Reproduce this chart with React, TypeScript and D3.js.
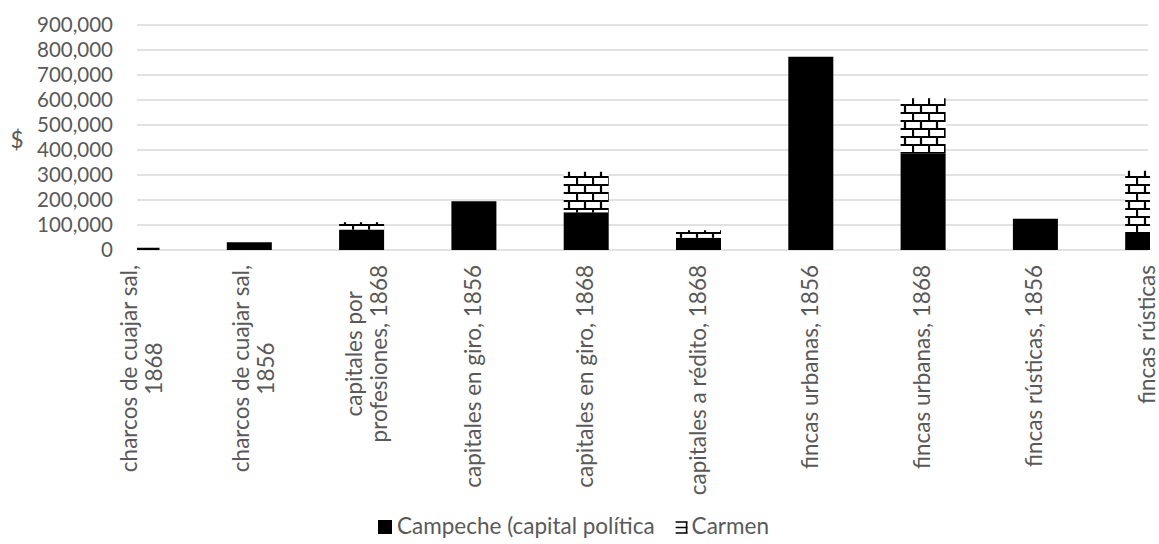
import React, { useEffect, useRef } from "react";
import * as d3 from "d3";

// Category labels (already split into the lines they wrap to)
const categories: string[][] = [
  ["charcos de cuajar sal,", "1868"],
  ["charcos de cuajar sal,", "1856"],
  ["capitales por", "profesiones, 1868"],
  ["capitales en giro, 1856"],
  ["capitales en giro, 1868"],
  ["capitales a rédito, 1868"],
  ["fincas urbanas, 1856"],
  ["fincas urbanas, 1868"],
  ["fincas rústicas, 1856"],
  ["fincas rústicas"],
];

// Stacked series, in pesos
const campeche: number[] = [9000, 31000, 82000, 195000, 151000, 49000, 773000, 387000, 125000, 68000];
const carmen: number[] = [0, 0, 29000, 0, 162000, 30000, 0, 220000, 0, 249000];

const seriesNames: string[] = ["Campeche (capital política", "Carmen"];
const yTicks: number[] = [0, 100000, 200000, 300000, 400000, 500000, 600000, 700000, 800000, 900000];
const yTitle = "$";

const W = 1159;
const H = 544;
const FONT = "Lato, 'Open Sans', sans-serif";
const TEXT = "#595959";
const GRID = "#d9d9d9";
const TICK_SIZE = 20.5;
const LABEL_SIZE = 22.5;

export default function App() {
  const ref = useRef<SVGSVGElement>(null);

  useEffect(() => {
    document.body.style.margin = "0";
    const svg = d3.select(ref.current);
    svg.selectAll("*").remove();

    const plotLeft = 137;
    const plotRight = 1148;
    const x = d3
      .scalePoint<number>()
      .domain(categories.map((_, i) => i))
      .range([137, 1147.7]);
    const y = d3.scaleLinear().domain([0, 900000]).range([250, 25]);
    const barW = 45;

    const defs = svg.append("defs");
    // brick hatch for the Carmen series
    const pat = defs
      .append("pattern")
      .attr("id", "brick")
      .attr("patternUnits", "userSpaceOnUse")
      .attr("width", 16)
      .attr("height", 16);
    pat.append("rect").attr("width", 16).attr("height", 16).attr("fill", "#fff");
    pat
      .append("path")
      .attr("d", "M0,1H16M0,9H16M1,1V9M9,9V17")
      .attr("stroke", "#000")
      .attr("stroke-width", 2.2)
      .attr("fill", "none");

    defs
      .append("clipPath")
      .attr("id", "plotClip")
      .append("rect")
      .attr("x", plotLeft)
      .attr("y", 0)
      .attr("width", 1150 - plotLeft)
      .attr("height", 251);

    // gridlines
    svg
      .append("g")
      .selectAll("line")
      .data(yTicks)
      .join("line")
      .attr("x1", plotLeft)
      .attr("x2", plotRight)
      .attr("y1", (d) => y(d))
      .attr("y2", (d) => y(d))
      .attr("stroke", GRID)
      .attr("stroke-width", 1.6);

    // y tick labels
    const fmt = d3.format(",");
    svg
      .append("g")
      .selectAll("text")
      .data(yTicks)
      .join("text")
      .attr("x", 113)
      .attr("y", (d) => y(d))
      .attr("dy", "0.36em")
      .attr("text-anchor", "end")
      .attr("font-family", FONT)
      .attr("font-size", TICK_SIZE)
      .attr("fill", TEXT)
      .text((d) => fmt(d));

    svg
      .append("text")
      .attr("x", 17)
      .attr("y", 140)
      .attr("dy", "0.36em")
      .attr("text-anchor", "middle")
      .attr("font-family", FONT)
      .attr("font-size", LABEL_SIZE)
      .attr("fill", TEXT)
      .text(yTitle);

    // stacked bars
    const bars = svg.append("g").attr("clip-path", "url(#plotClip)");
    bars
      .selectAll("rect.camp")
      .data(campeche)
      .join("rect")
      .attr("class", "camp")
      .attr("x", (_, i) => (x(i) as number) - barW / 2)
      .attr("width", barW)
      .attr("y", (d) => y(d))
      .attr("height", (d) => y(0) - y(d))
      .attr("fill", "#000");
    bars
      .selectAll("rect.carm")
      .data(carmen)
      .join("rect")
      .attr("class", "carm")
      .attr("x", (_, i) => (x(i) as number) - barW / 2)
      .attr("width", barW)
      .attr("y", (d, i) => y(campeche[i] + d))
      .attr("height", (d, i) => y(campeche[i]) - y(campeche[i] + d))
      .attr("fill", "url(#brick)");

    // rotated category labels, lines centred on each other, block hung from the axis
    const labelTop = 265;
    const lab = svg.append("g");
    categories.forEach((lines, i) => {
      const cx = x(i) as number;
      const g = lab.append("g").attr("transform", `translate(${cx},${labelTop}) rotate(-90)`);
      const offs = lines.length === 1 ? [7] : [0, 25];
      const ts = lines.map((ln, k) =>
        g
          .append("text")
          .attr("y", offs[k])
          .attr("text-anchor", "middle")
          .attr("font-family", FONT)
          .attr("font-size", LABEL_SIZE)
          .attr("fill", TEXT)
          .text(ln)
      );
      const L = d3.max(ts, (t) => (t.node() as SVGTextElement).getComputedTextLength()) || 0;
      ts.forEach((t) => t.attr("x", -L / 2));
    });

    // legend
    const leg = svg.append("g");
    leg.append("rect").attr("x", 378).attr("y", 520).attr("width", 14).attr("height", 14).attr("fill", "#000");
    const t1 = leg
      .append("text")
      .attr("x", 397)
      .attr("y", 534)
      .attr("font-family", FONT)
      .attr("font-size", LABEL_SIZE)
      .attr("fill", TEXT)
      .text(seriesNames[0]);
    const w1 = (t1.node() as SVGTextElement).getComputedTextLength();
    const ix = 397 + w1 + 21;
    leg
      .append("path")
      .attr(
        "d",
        `M${ix},${522}H${ix + 12}M${ix},${527.5}H${ix + 12}M${ix},${533}H${ix + 12}M${ix + 11},${522}V${533}`
      )
      .attr("stroke", "#000")
      .attr("stroke-width", 1.6)
      .attr("fill", "none");
    leg
      .append("text")
      .attr("x", ix + 16)
      .attr("y", 534)
      .attr("font-family", FONT)
      .attr("font-size", LABEL_SIZE)
      .attr("fill", TEXT)
      .text(seriesNames[1]);
  }, []);

  return <svg ref={ref} width={W} height={H} style={{ display: "block", background: "#fff" }} />;
}
